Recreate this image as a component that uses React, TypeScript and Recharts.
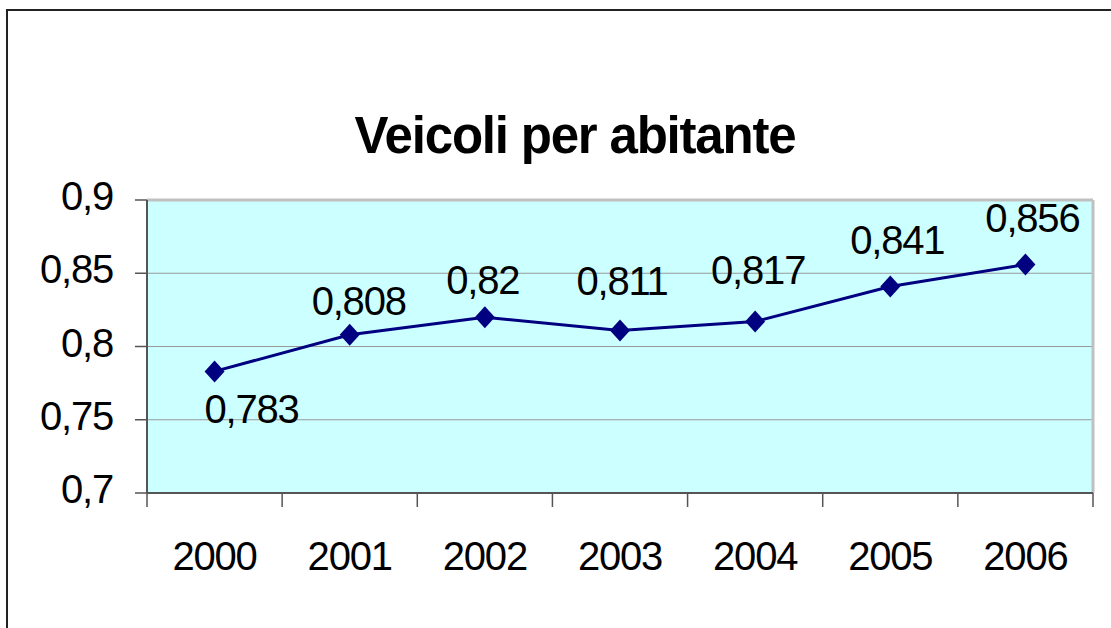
import { LineChart, Line, XAxis, YAxis, CartesianGrid, ReferenceLine } from "recharts";

const years = ["2000", "2001", "2002", "2003", "2004", "2005", "2006"];
const vehiclesPerPerson = [0.783, 0.808, 0.82, 0.811, 0.817, 0.841, 0.856];
const yTicks = [0.7, 0.75, 0.8, 0.85, 0.9];

// label nudges relative to each point (style only)
const labelDx = [-10, 9, -2, 2, 3, 7, 7];
const labelDy = [52, -20, -23, -35, -38, -32, -32];

const data = years.map((year, i) => ({ i, year, value: vehiclesPerPerson[i] }));

// tick marks sit between categories, labels sit at the centres
const xTicks: number[] = [-0.5];
years.forEach((_, i) => xTicks.push(i, i + 0.5));

const FONT = '"Liberation Sans", Arial, Helvetica, sans-serif';
const AXIS = "#555";
const SIZE = 40;
const SPACING = -1.2;
const comma = (v: number) => String(v).replace(".", ",");

function XTick(props: any) {
  const { x, y, payload } = props;
  const v = payload.value;
  if (Number.isInteger(v)) {
    return (
      <text
        x={x}
        y={y + 77}
        textAnchor="middle"
        fontSize={SIZE}
        letterSpacing={SPACING}
        fill="#000"
        fontFamily={FONT}
      >
        {years[v]}
      </text>
    );
  }
  return <line x1={x} x2={x} y1={y} y2={y + 14} stroke={AXIS} strokeWidth={1.5} />;
}

function YTick(props: any) {
  const { x, y, payload } = props;
  return (
    <text
      x={x}
      y={y + 10}
      textAnchor="end"
      fontSize={SIZE}
      letterSpacing={SPACING}
      fill="#000"
      fontFamily={FONT}
    >
      {comma(payload.value)}
    </text>
  );
}

function Diamond(props: any) {
  const { cx, cy } = props;
  if (cx == null || cy == null) return null;
  return (
    <polygon
      points={`${cx},${cy - 11} ${cx + 10},${cy} ${cx},${cy + 11} ${cx - 10},${cy}`}
      fill="#000080"
    />
  );
}

function ValueLabel(props: any) {
  const { x, y, value, index } = props;
  const first = index === 0;
  return (
    <text
      x={x + labelDx[index]}
      y={y + labelDy[index]}
      textAnchor={first ? "start" : "middle"}
      fontSize={SIZE}
      letterSpacing={SPACING}
      fill="#000"
      fontFamily={FONT}
    >
      {comma(value)}
    </text>
  );
}

export default function App() {
  return (
    <div style={{ position: "absolute", left: 0, top: 0, width: 1111, height: 628, background: "#fff" }}>
      <svg
        width={1111}
        height={628}
        style={{ position: "absolute", left: 0, top: 0, pointerEvents: "none" }}
      >
        <rect x={7} y={10} width={1200} height={700} fill="none" stroke="#222" strokeWidth={2} />
        <text
          x={575}
          y={153}
          textAnchor="middle"
          fontSize={51}
          fontWeight="bold"
          letterSpacing={-1.2}
          fontFamily={FONT}
          fill="#000"
        >
          Veicoli per abitante
        </text>
      </svg>
      <div style={{ position: "absolute", left: 0, top: 0 }}>
        <LineChart
          width={1111}
          height={628}
          data={data}
          margin={{ top: 200, right: 18, bottom: 0, left: 0 }}
        >
          <CartesianGrid vertical={false} fill="#CCFFFF" stroke="#999" fillOpacity={1} />
          <XAxis
            dataKey="i"
            type="number"
            domain={[-0.5, 6.5]}
            ticks={xTicks}
            interval={0}
            height={135}
            tickSize={0}
            tickMargin={0}
            tickLine={false}
            tick={<XTick />}
            axisLine={{ stroke: AXIS, strokeWidth: 2 }}
            allowDataOverflow
          />
          <YAxis
            domain={[0.7, 0.9]}
            ticks={yTicks}
            width={147}
            tickSize={12}
            tickMargin={22}
            tick={<YTick />}
            tickLine={{ stroke: AXIS, strokeWidth: 1.5 }}
            axisLine={{ stroke: AXIS, strokeWidth: 2 }}
            allowDataOverflow
          />
          <ReferenceLine y={0.9} stroke="#C0C0C0" strokeWidth={3} />
          <ReferenceLine x={6.5} stroke="#C0C0C0" strokeWidth={3} />
          <Line
            dataKey="value"
            stroke="#000080"
            strokeWidth={3}
            dot={<Diamond />}
            activeDot={false}
            label={<ValueLabel />}
            isAnimationActive={false}
          />
        </LineChart>
      </div>
    </div>
  );
}
